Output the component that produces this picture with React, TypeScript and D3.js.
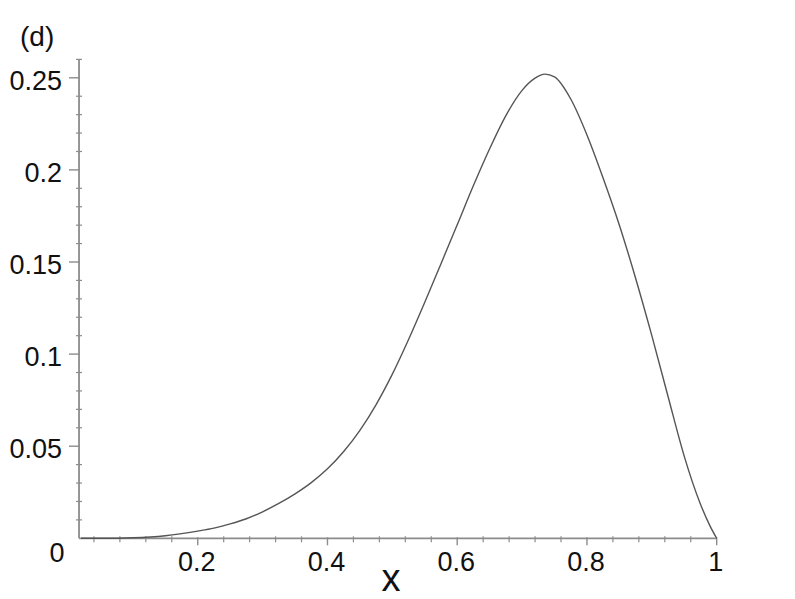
import { useMemo } from 'react';
import * as d3 from 'd3';

// curve samples
const curveX = [0.02, 0.05, 0.1, 0.15, 0.2, 0.225, 0.25, 0.275, 0.3, 0.325, 0.35, 0.375, 0.4, 0.425, 0.45, 0.475, 0.5, 0.525, 0.55, 0.575, 0.6, 0.625, 0.65, 0.675, 0.7, 0.72, 0.735, 0.75, 0.775, 0.8, 0.825, 0.85, 0.875, 0.9, 0.925, 0.95, 0.975, 0.99, 1.0];
const curveY = [0, 0, 0.0003, 0.0014, 0.0039, 0.0055, 0.0078, 0.0106, 0.0144, 0.0189, 0.0241, 0.0302, 0.0377, 0.0471, 0.0586, 0.0726, 0.0891, 0.1079, 0.1281, 0.1491, 0.1702, 0.1915, 0.2115, 0.2295, 0.2432, 0.2498, 0.252, 0.2505, 0.2385, 0.219, 0.1955, 0.17, 0.1412, 0.11, 0.077, 0.0445, 0.0185, 0.0065, 0];

const xTicks = [0.2, 0.4, 0.6, 0.8, 1];
const xTickLabels = ['0.2', '0.4', '0.6', '0.8', '1'];
const yTicks = [0.05, 0.1, 0.15, 0.2, 0.25];
const yTickLabels = ['0.05', '0.1', '0.15', '0.2', '0.25'];

const W = 795;
const H = 599;
const FONT = '"Liberation Sans", Arial, sans-serif';
const AXIS = '#8c8c8c';

export default function App() {
  const x = useMemo(() => d3.scaleLinear().domain([0, 1]).range([68, 716.7]), []);
  const y = useMemo(() => d3.scaleLinear().domain([0, 0.25]).range([538.3, 77.8]), []);

  const data = curveX.map((v, i) => [v, curveY[i]] as [number, number]);
  const line = d3.line<[number, number]>()
    .x(d => x(d[0]))
    .y(d => y(d[1]))
    .curve(d3.curveMonotoneX);

  const xMin = 0.017;
  const yMax = 0.26;
  const x0 = x(xMin);
  const y0 = y(0);

  // minor ticks
  const xMinor = d3.range(1, 25).map(i => i * 0.04).filter(v => Math.abs(v / 0.2 - Math.round(v / 0.2)) > 1e-6);
  const yMinor = d3.range(1, 27).map(i => i * 0.01).filter(v => Math.abs(v / 0.05 - Math.round(v / 0.05)) > 1e-6);

  return (
    <svg width={W} height={H} style={{ position: 'absolute', left: 0, top: 0, background: '#fff' }}>
      <rect width={W} height={H} fill="#fff" />

      {/* axes */}
      <line x1={x0} x2={x0} y1={y0} y2={y(yMax)} stroke={AXIS} strokeWidth={1.8} />
      <line x1={x0} x2={x(1)} y1={y0} y2={y0} stroke={AXIS} strokeWidth={1.8} />

      {yTicks.map(t => (
        <line key={'yt' + t} x1={x0 - 10} x2={x0 + 1} y1={y(t)} y2={y(t)} stroke={AXIS} strokeWidth={1.4} />
      ))}
      {yMinor.map(t => (
        <line key={'ym' + t} x1={x0 - 3} x2={x0 + 3} y1={y(t)} y2={y(t)} stroke={AXIS} strokeWidth={1.2} />
      ))}
      {xTicks.map(t => (
        <line key={'xt' + t} x1={x(t)} x2={x(t)} y1={y0 - 1} y2={y0 + 7} stroke={AXIS} strokeWidth={1.4} />
      ))}
      {xMinor.map(t => (
        <line key={'xm' + t} x1={x(t)} x2={x(t)} y1={y0 - 2} y2={y0 + 4} stroke={AXIS} strokeWidth={1.2} />
      ))}

      {/* tick labels */}
      {yTicks.map((t, i) => (
        <text key={'yl' + t} x={62} y={y(t) + 12} textAnchor="end" fontFamily={FONT} fontSize={27} fill="#111">
          {yTickLabels[i]}
        </text>
      ))}
      <text x={57} y={562} textAnchor="middle" fontFamily={FONT} fontSize={27} fill="#111">0</text>
      {xTicks.map((t, i) => (
        <text key={'xl' + t} x={x(t) - 1} y={571} textAnchor="middle" fontFamily={FONT} fontSize={27} fill="#111">
          {xTickLabels[i]}
        </text>
      ))}

      {/* axis label and panel tag */}
      <text x={391} y={591} textAnchor="middle" fontFamily={FONT} fontSize={38} fill="#111">x</text>
      <text x={20} y={46} fontFamily={FONT} fontSize={28} fill="#111">(d)</text>

      {/* curve */}
      <path d={line(data) || ''} fill="none" stroke="#555" strokeWidth={1.4} />
    </svg>
  );
}
